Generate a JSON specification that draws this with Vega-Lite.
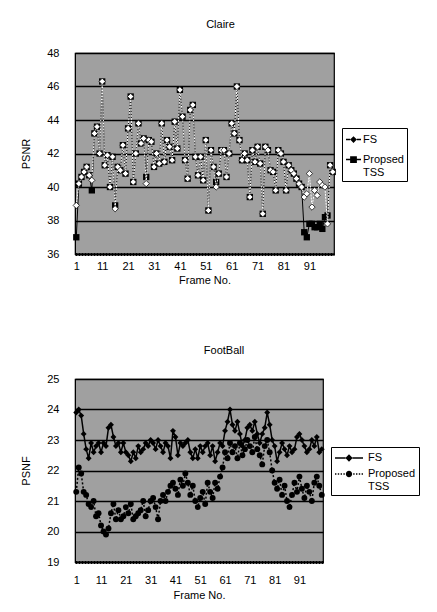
{
  "$schema": "https://vega.github.io/schema/vega-lite/v6.json",
  "background": "white",
  "padding": {"left": 20, "top": 18, "right": 0, "bottom": 0},
  "spacing": 58,
  "resolve": {"scale": {"shape": "independent", "y": "independent", "x": "independent"}, "legend": {"shape": "independent"}},
  "datasets": {
    "claire": [
      {"frame":1,"FS":38.9,"TSS":37.0},{"frame":2,"FS":40.2,"TSS":40.2},{"frame":3,"FS":40.6,"TSS":40.6},{"frame":4,"FS":40.9,"TSS":40.9},{"frame":5,"FS":41.2,"TSS":41.2},
      {"frame":6,"FS":40.7,"TSS":40.7},{"frame":7,"FS":40.4,"TSS":39.8},{"frame":8,"FS":43.2,"TSS":43.2},{"frame":9,"FS":43.6,"TSS":43.6},{"frame":10,"FS":42.0,"TSS":42.0},
      {"frame":11,"FS":46.3,"TSS":46.3},{"frame":12,"FS":41.3,"TSS":41.3},{"frame":13,"FS":41.9,"TSS":41.9},{"frame":14,"FS":40.0,"TSS":40.0},{"frame":15,"FS":41.8,"TSS":41.8},
      {"frame":16,"FS":38.7,"TSS":38.9},{"frame":17,"FS":41.2,"TSS":41.2},{"frame":18,"FS":41.0,"TSS":41.0},{"frame":19,"FS":42.5,"TSS":42.5},{"frame":20,"FS":40.8,"TSS":40.8},
      {"frame":21,"FS":43.5,"TSS":43.5},{"frame":22,"FS":45.4,"TSS":45.4},{"frame":23,"FS":40.3,"TSS":40.3},{"frame":24,"FS":42.0,"TSS":42.0},{"frame":25,"FS":43.8,"TSS":43.8},
      {"frame":26,"FS":42.6,"TSS":42.6},{"frame":27,"FS":42.9,"TSS":42.9},{"frame":28,"FS":40.2,"TSS":40.6},{"frame":29,"FS":42.8,"TSS":42.8},{"frame":30,"FS":42.7,"TSS":42.7},
      {"frame":31,"FS":41.2,"TSS":41.2},{"frame":32,"FS":42.0,"TSS":42.0},{"frame":33,"FS":41.4,"TSS":41.4},{"frame":34,"FS":43.8,"TSS":43.8},{"frame":35,"FS":41.5,"TSS":41.5},
      {"frame":36,"FS":42.8,"TSS":42.8},{"frame":37,"FS":42.4,"TSS":42.4},{"frame":38,"FS":41.6,"TSS":41.6},{"frame":39,"FS":43.9,"TSS":43.9},{"frame":40,"FS":42.3,"TSS":42.3},
      {"frame":41,"FS":45.8,"TSS":45.8},{"frame":42,"FS":44.2,"TSS":44.2},{"frame":43,"FS":41.6,"TSS":41.6},{"frame":44,"FS":40.5,"TSS":40.5},{"frame":45,"FS":44.6,"TSS":44.6},
      {"frame":46,"FS":44.9,"TSS":44.9},{"frame":47,"FS":41.8,"TSS":41.8},{"frame":48,"FS":40.7,"TSS":40.7},{"frame":49,"FS":41.8,"TSS":41.8},{"frame":50,"FS":40.4,"TSS":40.4},
      {"frame":51,"FS":42.8,"TSS":42.8},{"frame":52,"FS":38.6,"TSS":38.6},{"frame":53,"FS":42.2,"TSS":42.2},{"frame":54,"FS":41.2,"TSS":41.2},{"frame":55,"FS":40.0,"TSS":40.3},
      {"frame":56,"FS":40.8,"TSS":40.8},{"frame":57,"FS":42.2,"TSS":42.2},{"frame":58,"FS":42.2,"TSS":42.2},{"frame":59,"FS":40.6,"TSS":40.6},{"frame":60,"FS":42.0,"TSS":42.0},
      {"frame":61,"FS":43.8,"TSS":43.8},{"frame":62,"FS":43.2,"TSS":43.2},{"frame":63,"FS":46.0,"TSS":46.0},{"frame":64,"FS":42.8,"TSS":42.8},{"frame":65,"FS":41.6,"TSS":41.6},
      {"frame":66,"FS":42.0,"TSS":42.0},{"frame":67,"FS":41.6,"TSS":41.6},{"frame":68,"FS":39.4,"TSS":39.4},{"frame":69,"FS":42.2,"TSS":42.2},{"frame":70,"FS":41.5,"TSS":41.5},
      {"frame":71,"FS":42.4,"TSS":42.4},{"frame":72,"FS":41.4,"TSS":41.4},{"frame":73,"FS":38.4,"TSS":38.4},{"frame":74,"FS":42.4,"TSS":42.4},{"frame":75,"FS":42.2,"TSS":42.2},
      {"frame":76,"FS":41.0,"TSS":41.0},{"frame":77,"FS":40.9,"TSS":40.9},{"frame":78,"FS":39.8,"TSS":39.8},{"frame":79,"FS":42.2,"TSS":42.2},{"frame":80,"FS":42.0,"TSS":42.0},
      {"frame":81,"FS":41.5,"TSS":41.5},{"frame":82,"FS":39.8,"TSS":39.8},{"frame":83,"FS":41.3,"TSS":41.3},{"frame":84,"FS":41.0,"TSS":41.0},{"frame":85,"FS":40.8,"TSS":40.8},
      {"frame":86,"FS":40.5,"TSS":40.5},{"frame":87,"FS":40.2,"TSS":40.2},{"frame":88,"FS":40.0,"TSS":40.0},{"frame":89,"FS":39.4,"TSS":37.3},{"frame":90,"FS":39.6,"TSS":37.0},
      {"frame":91,"FS":40.8,"TSS":37.8},{"frame":92,"FS":38.8,"TSS":37.8},{"frame":93,"FS":39.8,"TSS":37.6},{"frame":94,"FS":39.5,"TSS":37.6},{"frame":95,"FS":40.3,"TSS":37.8},
      {"frame":96,"FS":40.1,"TSS":37.5},{"frame":97,"FS":40.0,"TSS":38.2},{"frame":98,"FS":37.8,"TSS":38.3},{"frame":99,"FS":41.3,"TSS":41.3},{"frame":100,"FS":40.9,"TSS":40.9}
    ],
    "football": [
      {"frame":1,"FS":23.9,"TSS":21.3},{"frame":2,"FS":24.0,"TSS":22.1},{"frame":3,"FS":23.8,"TSS":21.9},{"frame":4,"FS":23.2,"TSS":21.3},{"frame":5,"FS":22.7,"TSS":21.2},
      {"frame":6,"FS":22.4,"TSS":20.9},{"frame":7,"FS":22.9,"TSS":20.8},{"frame":8,"FS":22.6,"TSS":21.0},{"frame":9,"FS":22.8,"TSS":20.5},{"frame":10,"FS":22.9,"TSS":20.6},
      {"frame":11,"FS":22.6,"TSS":20.2},{"frame":12,"FS":22.9,"TSS":20.0},{"frame":13,"FS":22.8,"TSS":19.9},{"frame":14,"FS":23.4,"TSS":20.1},{"frame":15,"FS":23.5,"TSS":20.6},
      {"frame":16,"FS":23.1,"TSS":20.9},{"frame":17,"FS":22.8,"TSS":20.4},{"frame":18,"FS":22.9,"TSS":20.7},{"frame":19,"FS":22.6,"TSS":20.4},{"frame":20,"FS":22.9,"TSS":20.5},
      {"frame":21,"FS":22.6,"TSS":20.8},{"frame":22,"FS":22.5,"TSS":20.6},{"frame":23,"FS":22.3,"TSS":20.9},{"frame":24,"FS":22.6,"TSS":20.4},{"frame":25,"FS":22.4,"TSS":20.5},
      {"frame":26,"FS":22.8,"TSS":20.6},{"frame":27,"FS":22.6,"TSS":20.7},{"frame":28,"FS":22.7,"TSS":21.0},{"frame":29,"FS":22.9,"TSS":20.5},{"frame":30,"FS":22.8,"TSS":20.7},
      {"frame":31,"FS":23.0,"TSS":21.0},{"frame":32,"FS":22.9,"TSS":21.1},{"frame":33,"FS":22.7,"TSS":20.8},{"frame":34,"FS":23.0,"TSS":20.4},{"frame":35,"FS":22.8,"TSS":21.0},
      {"frame":36,"FS":22.6,"TSS":21.2},{"frame":37,"FS":22.9,"TSS":21.0},{"frame":38,"FS":22.8,"TSS":21.3},{"frame":39,"FS":22.4,"TSS":21.5},{"frame":40,"FS":23.3,"TSS":21.6},
      {"frame":41,"FS":23.1,"TSS":21.4},{"frame":42,"FS":22.5,"TSS":21.2},{"frame":43,"FS":22.9,"TSS":21.7},{"frame":44,"FS":22.8,"TSS":21.5},{"frame":45,"FS":22.9,"TSS":21.9},
      {"frame":46,"FS":23.0,"TSS":21.6},{"frame":47,"FS":22.6,"TSS":21.2},{"frame":48,"FS":22.4,"TSS":21.5},{"frame":49,"FS":22.7,"TSS":21.0},{"frame":50,"FS":22.4,"TSS":20.8},
      {"frame":51,"FS":22.8,"TSS":21.1},{"frame":52,"FS":22.6,"TSS":21.3},{"frame":53,"FS":22.8,"TSS":20.9},{"frame":54,"FS":22.9,"TSS":21.6},{"frame":55,"FS":22.5,"TSS":21.3},
      {"frame":56,"FS":22.8,"TSS":21.1},{"frame":57,"FS":22.3,"TSS":21.6},{"frame":58,"FS":22.6,"TSS":21.4},{"frame":59,"FS":22.9,"TSS":21.8},{"frame":60,"FS":22.8,"TSS":22.1},
      {"frame":61,"FS":23.3,"TSS":22.6},{"frame":62,"FS":23.6,"TSS":22.4},{"frame":63,"FS":24.0,"TSS":22.9},{"frame":64,"FS":23.5,"TSS":22.6},{"frame":65,"FS":23.3,"TSS":22.8},
      {"frame":66,"FS":23.6,"TSS":22.4},{"frame":67,"FS":23.2,"TSS":22.9},{"frame":68,"FS":22.8,"TSS":22.5},{"frame":69,"FS":23.0,"TSS":22.7},{"frame":70,"FS":23.4,"TSS":23.0},
      {"frame":71,"FS":23.5,"TSS":22.8},{"frame":72,"FS":23.3,"TSS":22.6},{"frame":73,"FS":23.6,"TSS":23.1},{"frame":74,"FS":23.2,"TSS":22.7},{"frame":75,"FS":22.9,"TSS":22.5},
      {"frame":76,"FS":23.2,"TSS":22.2},{"frame":77,"FS":23.4,"TSS":22.8},{"frame":78,"FS":23.9,"TSS":23.0},{"frame":79,"FS":23.5,"TSS":22.6},{"frame":80,"FS":23.0,"TSS":22.0},
      {"frame":81,"FS":22.8,"TSS":21.6},{"frame":82,"FS":22.3,"TSS":21.4},{"frame":83,"FS":22.6,"TSS":21.7},{"frame":84,"FS":22.9,"TSS":21.2},{"frame":85,"FS":22.7,"TSS":21.5},
      {"frame":86,"FS":22.5,"TSS":21.0},{"frame":87,"FS":22.8,"TSS":20.8},{"frame":88,"FS":22.6,"TSS":21.2},{"frame":89,"FS":22.7,"TSS":21.6},{"frame":90,"FS":23.1,"TSS":21.3},
      {"frame":91,"FS":23.2,"TSS":21.8},{"frame":92,"FS":23.0,"TSS":21.4},{"frame":93,"FS":22.8,"TSS":21.1},{"frame":94,"FS":22.6,"TSS":21.5},{"frame":95,"FS":22.7,"TSS":21.3},
      {"frame":96,"FS":23.0,"TSS":21.0},{"frame":97,"FS":22.8,"TSS":21.6},{"frame":98,"FS":23.1,"TSS":21.8},{"frame":99,"FS":22.6,"TSS":21.5},{"frame":100,"FS":22.7,"TSS":21.2}
    ]
  },
  "vconcat": [
    {
      "width": 259,
      "height": 201,
      "title": {"text": "Claire", "frame": "group", "offset": 17, "dx": 16},
      "data": {"name": "claire"},
      "encoding": {
        "x": {"field": "frame", "type": "quantitative",
          "scale": {"domain": [0.5, 100.5], "nice": false, "zero": false},
          "axis": {"values": [1,11,21,31,41,51,61,71,81,91], "title": "Frame No.", "labelPadding": 6, "titlePadding": 3, "grid": false, "labelOverlap": false, "domainWidth": 3, "domainDash": [2,1]}}
      },
      "layer": [
        {"mark": {"type": "line", "color": "black", "strokeWidth": 1},
         "encoding": {"y": {"field": "TSS", "type": "quantitative", "title": "PSNR",
           "scale": {"domain": [36, 48], "nice": false, "zero": false},
           "axis": {"values": [36,38,40,42,44,46,48], "labelOverlap": false, "labelPadding": 16, "titlePadding": 15}}}},
        {"mark": {"type": "point", "shape": "square", "filled": true, "color": "black", "size": 40, "opacity": 1},
         "encoding": {"y": {"field": "TSS", "type": "quantitative", "title": "PSNR",
           "axis": {"values": [36,38,40,42,44,46,48], "labelOverlap": false, "labelPadding": 16, "titlePadding": 15}}}},
        {"mark": {"type": "line", "color": "white", "strokeWidth": 1, "strokeDash": [2, 1]},
         "encoding": {"y": {"field": "FS", "type": "quantitative", "title": "PSNR",
           "axis": {"values": [36,38,40,42,44,46,48], "labelOverlap": false, "labelPadding": 16, "titlePadding": 15}}}},
        {"mark": {"type": "point", "shape": "diamond", "filled": true, "fill": "white", "stroke": "#111111", "strokeWidth": 0.8, "size": 40, "opacity": 1},
         "encoding": {"y": {"field": "FS", "type": "quantitative", "title": "PSNR",
           "axis": {"values": [36,38,40,42,44,46,48], "labelOverlap": false, "labelPadding": 16, "titlePadding": 15}}}},
        {"transform": [{"fold": ["FS", "TSS"], "as": ["series", "psnr"]}],
         "mark": {"type": "point", "filled": true, "color": "black", "opacity": 0},
         "encoding": {
           "y": {"field": "psnr", "type": "quantitative", "title": "PSNR",
             "axis": {"values": [36,38,40,42,44,46,48], "labelOverlap": false, "labelPadding": 16, "titlePadding": 15}},
           "shape": {"field": "series", "type": "nominal",
             "scale": {"domain": ["FS", "TSS"], "range": [
               "M-1,-0.09H-0.45V0.09H-1Z M0.45,-0.09H1V0.09H0.45Z M0,-0.45L0.45,0L0,0.45L-0.45,0Z",
               "M-1,-0.09H-0.45V0.09H-1Z M0.45,-0.09H1V0.09H0.45Z M-0.45,-0.45H0.45V0.45H-0.45Z"]},
             "legend": {"orient": "none", "legendX": 267, "legendY": 75, "direction": "vertical", "title": null,
               "strokeColor": "black", "fillColor": "white", "padding": 3,
               "symbolSize": 225, "symbolFillColor": "black", "symbolOpacity": 1,
               "labelFontSize": 11, "labelOffset": 1, "rowPadding": 5,
               "labelExpr": "datum.label == 'TSS' ? ['Propsed', ' TSS'] : datum.label",
               "encode": {"symbols": {"update": {"fill": {"value": "black"}, "opacity": {"value": 1}}}, "labels": {"update": {"lineHeight": {"value": 16}}}}}}
         }}
      ]
    },
    {
      "width": 248,
      "height": 183,
      "title": {"text": "FootBall", "frame": "group", "offset": 17, "dx": 25},
      "data": {"name": "football"},
      "encoding": {
        "x": {"field": "frame", "type": "quantitative",
          "scale": {"domain": [0.5, 100.5], "nice": false, "zero": false},
          "axis": {"values": [1,11,21,31,41,51,61,71,81,91], "title": "Frame No.", "labelPadding": 12, "titlePadding": 4, "grid": false, "labelOverlap": false, "domainWidth": 3, "domainDash": [2,1]}}
      },
      "layer": [
        {"mark": {"type": "line", "color": "black", "strokeWidth": 1.5, "strokeDash": [2, 2]},
         "encoding": {"y": {"field": "TSS", "type": "quantitative", "title": "PSNF",
           "scale": {"domain": [19, 25], "nice": false, "zero": false},
           "axis": {"values": [19,20,21,22,23,24,25], "labelOverlap": false, "labelPadding": 16, "titlePadding": 15}}}},
        {"mark": {"type": "point", "shape": "circle", "filled": true, "color": "black", "size": 35, "opacity": 1},
         "encoding": {"y": {"field": "TSS", "type": "quantitative", "title": "PSNF",
           "axis": {"values": [19,20,21,22,23,24,25], "labelOverlap": false, "labelPadding": 16, "titlePadding": 15}}}},
        {"mark": {"type": "line", "color": "black", "strokeWidth": 1.5},
         "encoding": {"y": {"field": "FS", "type": "quantitative", "title": "PSNF",
           "axis": {"values": [19,20,21,22,23,24,25], "labelOverlap": false, "labelPadding": 16, "titlePadding": 15}}}},
        {"mark": {"type": "point", "shape": "diamond", "filled": true, "color": "black", "size": 35, "opacity": 1},
         "encoding": {"y": {"field": "FS", "type": "quantitative", "title": "PSNF",
           "axis": {"values": [19,20,21,22,23,24,25], "labelOverlap": false, "labelPadding": 16, "titlePadding": 15}}}},
        {"transform": [{"fold": ["FS", "TSS"], "as": ["series2", "psnr"]}],
         "mark": {"type": "point", "filled": true, "color": "black", "opacity": 0},
         "encoding": {
           "y": {"field": "psnr", "type": "quantitative", "title": "PSNF",
             "axis": {"values": [19,20,21,22,23,24,25], "labelOverlap": false, "labelPadding": 16, "titlePadding": 15}},
           "shape": {"field": "series2", "type": "nominal",
             "scale": {"domain": ["FS", "TSS"], "range": [
               "M-2,-0.1H-0.5V0.1H-2Z M0.5,-0.1H2V0.1H0.5Z M0,-0.52L0.52,0L0,0.52L-0.52,0Z",
               "M-2,-0.1H-1.8V0.1H-2Z M-1.6,-0.1H-1.4V0.1H-1.6Z M-1.2,-0.1H-1V0.1H-1.2Z M-0.8,-0.1H-0.6V0.1H-0.8Z M0.6,-0.1H0.8V0.1H0.6Z M1,-0.1H1.2V0.1H1Z M1.4,-0.1H1.6V0.1H1.4Z M1.8,-0.1H2V0.1H1.8Z M-0.45,0A0.45,0.45,0,1,1,0.45,0A0.45,0.45,0,1,1,-0.45,0Z"]},
             "legend": {"orient": "none", "legendX": 256, "legendY": 68, "direction": "vertical", "title": null,
               "strokeColor": "black", "fillColor": "white", "padding": 3,
               "symbolSize": 196, "symbolOffset": 7, "symbolFillColor": "black", "symbolOpacity": 1,
               "labelFontSize": 11, "labelOffset": 11, "rowPadding": 1,
               "labelExpr": "datum.label == 'TSS' ? ['Proposed', ' TSS'] : datum.label",
               "encode": {"symbols": {"update": {"fill": {"value": "black"}, "opacity": {"value": 1}}}, "labels": {"update": {"lineHeight": {"value": 16}}}}}}
         }}
      ]
    }
  ],
  "config": {
    "font": "Liberation Sans",
    "view": {"fill": "#a0a0a0", "stroke": "black", "strokeWidth": 1.2},
    "axis": {"labelFont": "Liberation Sans", "labelFontSize": 11, "labelColor": "black", "titleFont": "Liberation Sans", "titleFontSize": 11, "titleFontWeight": "normal", "titleColor": "black", "ticks": false, "domainColor": "black", "gridColor": "black", "gridWidth": 1.3, "gridOpacity": 1},
    "legend": {"labelFont": "Liberation Sans", "labelColor": "black", "strokeColor": "black", "fillColor": "white", "strokeWidth": 1},
    "title": {"font": "Liberation Sans", "fontSize": 11, "fontWeight": "normal", "color": "black"}
  }
}
